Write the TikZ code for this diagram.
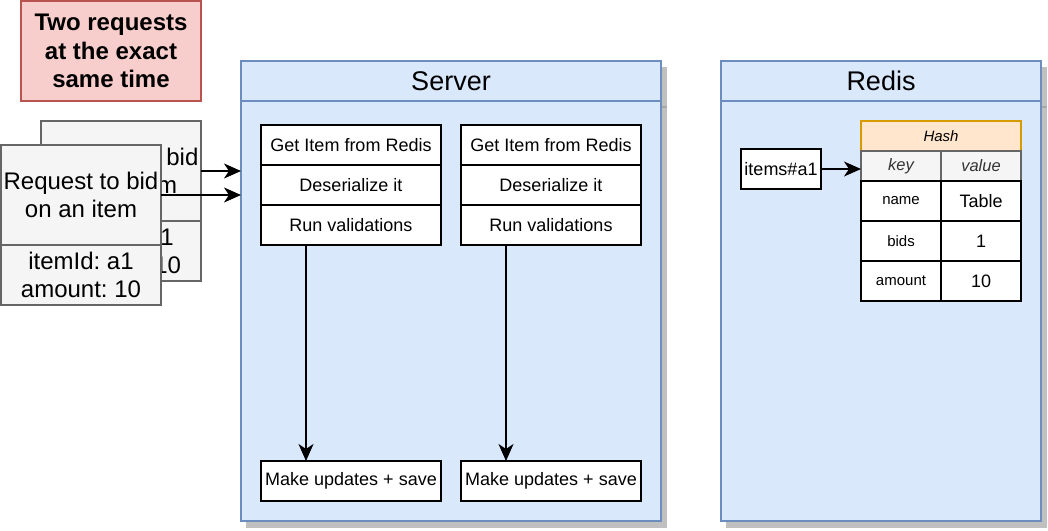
\documentclass[tikz,border=0pt]{standalone}
\usepackage{fontspec}
\setmainfont{Liberation Sans}
\usetikzlibrary{arrows.meta}
\frenchspacing
\definecolor{redfill}{HTML}{F8CECC}
\definecolor{redline}{HTML}{B85450}
\definecolor{grayfill}{HTML}{F5F5F5}
\definecolor{grayline}{HTML}{666666}
\definecolor{bluefill}{HTML}{DAE8FC}
\definecolor{blueline}{HTML}{6C8EBF}
\definecolor{orfill}{HTML}{FFE6CC}
\definecolor{orline}{HTML}{D79B00}
\definecolor{shadowc}{HTML}{C0C0C0}
\definecolor{shadowd}{HTML}{A8A8A8}
\definecolor{kvtext}{HTML}{333333}
\tikzset{
  cell/.style={rectangle, draw, line width=1.5pt, inner sep=0pt, outer sep=0pt, anchor=north west, align=center},
  whitebox/.style={cell, draw=black, fill=white, font=\fontsize{18}{21.6}\selectfont},
  cardbox/.style={cell, draw=grayline, fill=grayfill, font=\fontsize{24}{28.8}\selectfont},
  lane/.style={cell, draw=blueline, fill=bluefill},
  lanehead/.style={cell, draw=blueline, font=\fontsize{27}{32}\selectfont},
  arr/.style={line width=1.5pt, -{Stealth[length=17pt,width=15pt,inset=5pt]}},
}
\begin{document}
\begin{tikzpicture}[x=1pt,y=-1pt]
\useasboundingbox (0,0) rectangle (1048,530);
% note box
\node[cell, draw=redline, fill=redfill, minimum width=180pt, minimum height=100pt,
  font=\fontsize{24}{28.8}\selectfont\bfseries] (note) at (21,1) {Two requests\\at the exact\\same time};
% back request card
\node[cardbox, minimum width=160pt, minimum height=100pt] (backtop) at (41,121) {Request to bid\\on an item};
\node[cardbox, minimum width=160pt, minimum height=60pt] (backbot) at (41,221) {itemId: a1\\amount: 10};
% front request card
\node[cardbox, minimum width=160pt, minimum height=100pt] (fronttop) at (1,145) {Request to bid\\on an item};
\node[cardbox, minimum width=160pt, minimum height=60pt] (frontbot) at (1,245) {itemId: a1\\amount: 10};
% shadows
\fill[shadowc] (246,67) rectangle (667,528);
\draw[shadowd, line width=1.5pt] (246,107) -- (667,107);
\fill[shadowc] (726,67) rectangle (1047,528);
\draw[shadowd, line width=1.5pt] (726,107) -- (1047,107);
% server lane
\node[lane, minimum width=420pt, minimum height=460pt] (srv) at (241,61) {};
\node[lanehead, minimum width=420pt, minimum height=40pt] (srvh) at (241,61) {Server};
% redis lane
\node[lane, minimum width=320pt, minimum height=460pt] (red) at (721,61) {};
\node[lanehead, minimum width=320pt, minimum height=40pt] (redh) at (721,61) {Redis};
% request arrows
\draw[arr] (backtop.east |- 0,171) coordinate (b1) -- (b1 -| srv.west);
\draw[arr] (fronttop.east) -- (fronttop.east -| srv.west);
% left column
\node[whitebox, minimum width=180pt, minimum height=40pt] (l1) at (261,125) {Get Item from Redis};
\node[whitebox, minimum width=180pt, minimum height=40pt] (l2) at (261,165) {Deserialize it};
\node[whitebox, minimum width=180pt, minimum height=40pt] (l3) at (261,205) {Run validations};
\node[whitebox, minimum width=180pt, minimum height=40pt] (l4) at (261,461) {Make updates + save};
% right column
\node[whitebox, minimum width=180pt, minimum height=40pt] (r1) at (461,125) {Get Item from Redis};
\node[whitebox, minimum width=180pt, minimum height=40pt] (r2) at (461,165) {Deserialize it};
\node[whitebox, minimum width=180pt, minimum height=40pt] (r3) at (461,205) {Run validations};
\node[whitebox, minimum width=180pt, minimum height=40pt] (r4) at (461,461) {Make updates + save};
\draw[arr] ([xshift=-45pt]l3.south) -- ([xshift=-45pt]l4.north);
\draw[arr] ([xshift=-45pt]r3.south) -- ([xshift=-45pt]r4.north);
% redis contents
\node[whitebox, minimum width=80pt, minimum height=40pt] (key) at (741,149) {items\#a1};
\node[cell, draw=orline, fill=orfill, minimum width=160pt, minimum height=30pt,
  font=\fontsize{15}{18}\selectfont\itshape] (hash) at (861,121) {Hash};
\node[cell, draw=grayline, fill=grayfill, minimum width=80pt, minimum height=30pt,
  font=\fontsize{16.5}{19.8}\selectfont\itshape, text=kvtext] (kh) at (861,151) {key};
\node[cell, draw=grayline, fill=grayfill, minimum width=80pt, minimum height=30pt,
  font=\fontsize{16.5}{19.8}\selectfont\itshape, text=kvtext] (vh) at (941,151) {value};
\node[whitebox, minimum width=80pt, minimum height=40pt, font=\fontsize{15}{18}\selectfont] (k1) at (861,181) {name};
\node[whitebox, minimum width=80pt, minimum height=40pt] (v1) at (941,181) {Table};
\node[whitebox, minimum width=80pt, minimum height=40pt, font=\fontsize{15}{18}\selectfont] (k2) at (861,221) {bids};
\node[whitebox, minimum width=80pt, minimum height=40pt] (v2) at (941,221) {1};
\node[whitebox, minimum width=80pt, minimum height=40pt, font=\fontsize{15}{18}\selectfont] (k3) at (861,261) {amount};
\node[whitebox, minimum width=80pt, minimum height=40pt] (v3) at (941,261) {10};
\draw[arr] (key.east) -- (key.east -| kh.west);
\end{tikzpicture}
\end{document}
